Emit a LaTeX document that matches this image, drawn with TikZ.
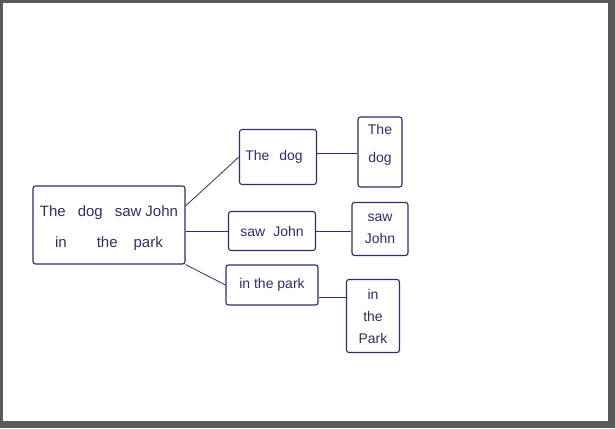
\documentclass[tikz,border=0pt]{standalone}
\usepackage{fontspec}
\setmainfont{Liberation Sans}
\begin{document}
\begin{tikzpicture}[x=1pt,y=-1pt,
  ink/.style={draw=inkc, line width=1.1pt},
  hbox/.style={ink, rounded corners=2.5pt, inner sep=0pt, text=inkc, align=center, font=\fontsize{14}{22}\selectfont},
  txt/.style={inner sep=0pt, text=inkc, font=\fontsize{14}{22}\selectfont},
  link/.style={draw=inkc, line width=0.8pt}]
\definecolor{inkc}{HTML}{2E2E6A}
\definecolor{framec}{HTML}{595959}
\fill[framec] (0,0) rectangle (615,428);
\fill[white] (3,3) rectangle (608,421);
\useasboundingbox (0,0) rectangle (615,428);
% nodes
\node[hbox, minimum width=152pt, minimum height=78pt, font=\fontsize{15}{31}\selectfont, text depth=0pt] (big) at (109,225)
  {\raisebox{-4pt}{The\hspace{12pt}dog\hspace{12pt}saw\hspace{4pt}John}\\\raisebox{-4pt}{in\hspace{30pt}the\hspace{16pt}park}};
\node[hbox, minimum width=77pt, minimum height=55pt] (td) at (278,157) {The\hspace{10pt}dog\hspace{8pt}};
\node[hbox, minimum width=44pt, minimum height=70pt] (tdv) at (380,152) {};
\node[txt] (tdv1) at (380,129) {The};
\node[txt] (tdv2) at (380,159) {dog};
\node[hbox, minimum width=87pt, minimum height=39pt] (sj) at (272,231) {saw\hspace{8pt}John};
\node[hbox, minimum width=56pt, minimum height=53pt] (sjv) at (380,229) {saw\\John};
\node[hbox, minimum width=92pt, minimum height=40pt] (ip) at (272,285) {in the park};
\node[hbox, minimum width=53pt, minimum height=73pt] (ipv) at (373,316) {\raisebox{-3pt}{in}\\\raisebox{-3pt}{the}\\\raisebox{-3pt}{Park}};
% connectors
\draw[link] (big.14) -- (td.west);
\draw[link] (sj.west -| big.east) -- (sj.west);
\draw[link] (big.south east) -- (ip.west);
\draw[link] ([yshift=4pt]td.east) -- ([yshift=4pt]td.east -| tdv.west);
\draw[link] (sj.east) -- (sj.east -| sjv.west);
\draw[link] ([yshift=-12pt]ip.east) -- ([yshift=-12pt]ip.east -| ipv.west);
\end{tikzpicture}
\end{document}
